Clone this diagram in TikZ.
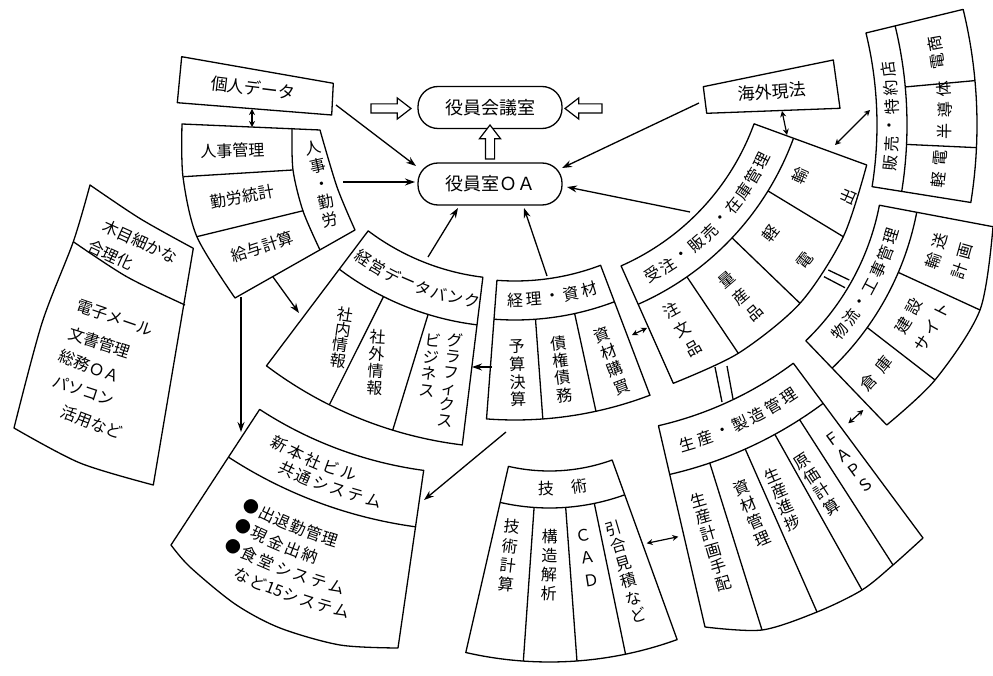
\documentclass[tikz,border=0pt]{standalone}
\usepackage{fontspec}
\setmainfont{Noto Sans CJK JP}
\usetikzlibrary{arrows.meta,shapes.arrows}
\tikzset{
  blk/.style={line width=1.3pt, line join=round},
  lbl/.style={inner sep=0pt, font=\fontsize{16}{18}\selectfont},
  vcol/.style={inner sep=0pt, align=center, font=\fontsize{16}{#1}\selectfont},
  bul/.style={inner sep=0pt, font=\fontsize{16}{18}\selectfont},
  arr/.style={line width=1.3pt, -{Stealth[length=10pt,width=7pt]}},
  darr/.style={line width=1.2pt, {Stealth[length=6pt,width=6pt]}-{Stealth[length=6pt,width=6pt]}},
  hollow/.style={single arrow, draw, line width=1.2pt, fill=white, inner xsep=0pt, inner ysep=4pt,
    minimum height=#1, minimum width=20pt, single arrow head extend=6pt, single arrow tip angle=75},
  oval/.style={draw, line width=1.3pt, rounded corners=20pt, minimum width=144pt, minimum height=42pt,
    inner sep=0pt, font=\fontsize{18}{20}\selectfont},
}
\newcommand\fanoutline[4]{\draw[blk] plot[domain=#1:#2,samples=50,variable=\t] (\t:#3) -- plot[domain=#2:#1,samples=50,variable=\t] (\t:#4) -- cycle;}
\newcommand\fanarc[3]{\draw[blk] plot[domain=#1:#2,samples=50,variable=\t] (\t:#3);}
\newcommand\fanrad[3]{\draw[blk] (#1:#2) -- (#1:#3);}
\newcommand\arcchars[6][lbl]{\foreach \ch [count=\i from 0] in {#6} {\pgfmathsetmacro\myang{#4+\i*(#5)}\node[#1, rotate=90-\myang] (#2\i) at (\myang:#3) {\ch};}}
\begin{document}
\begin{tikzpicture}[x=1pt,y=-1pt]
\useasboundingbox (0,0) rectangle (993,676);
\fill[white] (0,0) rectangle (993,676);

% ---------- top boxes ----------
\draw[blk] (181.7,56.7) -- (333.3,83.3) -- (331.7,115) -- (177.3,102.7) -- cycle;
\node[lbl, font=\fontsize{17}{18}\selectfont, rotate=-7] (kojin) at (253,88) {個人データ};
\draw[blk] (703.3,86.7) -- (833.3,60) -- (840,108.3) -- (706.7,113.3) -- cycle;
\node[lbl, font=\fontsize{17}{18}\selectfont, rotate=4] (kaigai) at (771.7,91.7) {海外現法};

\node[oval] (kaigi) at (490,107.5) {役員会議室};
\node[oval] (oa) at (490,184) {役員室ＯＡ};

\node[hollow=40pt] (h1) at (388,108.5) {};
\node[hollow=37pt, rotate=180] (h2) at (586.5,108.5) {};
\node[hollow=34pt, rotate=90] (h3) at (490,145) {};

% ---------- 人事 block ----------
\draw[blk] (182,124) -- (320,130) -- plot[smooth] coordinates {(320,130) (337,187) (355,230)} -- (235,298)
  -- plot[smooth] coordinates {(235,298) (197,237) (183,177) (182,124)} -- cycle;
\draw[blk] plot[smooth] coordinates {(292,128) (293,170) (303,211) (320,250)};
\draw[blk] (183.3,176.7) -- (292.7,170);
\draw[blk] (196.7,236.7) -- (303.3,210.7);
\node[lbl, rotate=2] (jk) at (232.3,150.7) {人事管理};
\node[lbl, rotate=10] (rt) at (242.3,196.7) {勤労統計};
\node[lbl, rotate=18] (kk) at (262.3,246.7) {給与計算};
\node[vcol=18.4, rotate=13] (jr) at (321.7,184.2) {人\\事\\・\\勤\\労};

% ---------- 木目細かな block ----------
\draw[blk] plot[smooth] coordinates {(90,185) (140.4,218.8) (193.3,248.3)} -- (153.3,485)
  -- plot[smooth] coordinates {(153.3,485) (80,463) (14,428)}
  -- plot[smooth] coordinates {(14,428) (42,323) (73.3,241.7) (90,185)} -- cycle;
\draw[blk] plot[smooth] coordinates {(73.3,241.7) (126.7,276.7) (185,305)};
\node[lbl, rotate=-24.4] (km1) at (140,241.7) {木目細かな};
\node[lbl, rotate=-25] (km2) at (110.8,255) {合理化};
\node[lbl, rotate=-19] (km3) at (115,318) {電子メール};
\node[lbl, rotate=-18] (km4) at (99.5,342.5) {文書管理};
\node[lbl, rotate=-21] (km5) at (90,366.5) {総務ＯＡ};
\node[lbl, rotate=-18] (km6) at (83.5,390.5) {パソコン};
\node[lbl, rotate=-21] (km7) at (91.5,422.5) {活用など};

% ---------- 経営データバンク ----------
\begin{scope}[shift={(512,40)}]
\fanoutline{97}{127}{239}{408}
\fanarc{97}{127}{287}
\fanrad{107}{287}{408}
\fanrad{116.6}{287}{408}
\arcchars{kh}{264}{124.3}{-3.65}{経,営,デ,ー,タ,バ,ン,ク}
\end{scope}
\node[vcol=15.4, rotate=-8.5] (kd1) at (341.7,337.5) {社\\内\\情\\報};
\node[vcol=17.2, rotate=-3.7] (kd2) at (376.7,362.5) {社\\外\\情\\報};
\node[vcol=16.1, rotate=-7] (kd3) at (450,380) {グ\\ラ\\フ\\ィ\\ク\\ス};
\node[vcol=16.8, rotate=-7] (kd4) at (430,365) {ビ\\ジ\\ネ\\ス};

% ---------- 経理・資材 ----------
\begin{scope}[shift={(515,40)}]
\fanoutline{69.2}{94.3}{241}{380}
\fanarc{69.2}{94.3}{280}
\fanrad{85.8}{280}{380}
\fanrad{77.7}{280}{380}
\arcchars{kr}{260}{90}{-4.15}{経,理,・,資,材}
\end{scope}
\node[vcol=17.8, rotate=1.7] (kr1) at (517.5,373.3) {予\\算\\決\\算};
\node[vcol=17.4, rotate=7.4] (kr2) at (561.7,369.2) {債\\権\\債\\務};
\node[vcol=18.5, rotate=21] (kr3) at (611.7,360.8) {資\\材\\購\\買};

% ---------- 受注・販売・在庫管理 ----------
\coordinate (jo1) at (866.7,165);
\coordinate (jo2) at (843.3,236.7);
\coordinate (jo3) at (800,303.3);
\coordinate (jo4) at (738.3,353.3);
\coordinate (jo5) at (673.3,383.3);
\begin{scope}[shift={(521,39)}]
\draw[blk] plot[domain=20:66.2,samples=50,variable=\t] (\t:248) -- (jo5)
  -- plot[smooth] coordinates {(jo5) (jo4) (jo3) (jo2) (jo1)} -- cycle;
\fanarc{20}{66.2}{290}
\draw[blk] (31.6:290) -- (jo2);
\draw[blk] (43.3:290) -- (jo3);
\draw[blk] (55.1:290) -- (jo4);
\arcchars{jh}{270}{60.8}{-3.78}{受,注,・,販,売,・,在,庫,管,理}
\end{scope}
\node[vcol=51.7, rotate=66] (j1) at (824.2,185.8) {輸\\出};
\node[vcol=44, rotate=52.4] (j2) at (787.5,246.7) {軽\\電};
\node[vcol=21.8, rotate=40.4] (j3) at (740.8,296.7) {量\\産\\品};
\node[vcol=22, rotate=29.3] (j4) at (682.5,329.2) {注\\文\\品};

% ---------- 販売・特約店 ----------
\begin{scope}[shift={(487,125)}]
\fanoutline{-13.65}{9.1}{390}{490}
\fanarc{-13.65}{9.1}{420}
\fanrad{-5.2}{420}{490}
\fanrad{2.65}{420}{490}
\arcchars{hb}{405}{5.4}{-2.66}{販,売,・,特,約,店}
\arcchars{hc}{455}{-8.0}{-2.3}{電,商}
\arcchars{hd}{458}{0.77}{-2.63}{半,導,体}
\arcchars{he}{455}{6.9}{-2.7}{軽,電}
\end{scope}

% ---------- 物流・工事管理 ----------
\coordinate (bo1) at (993,226.7);
\coordinate (bo2) at (980,310);
\coordinate (bo3) at (935,380);
\coordinate (bo4) at (886.7,425);
\begin{scope}[shift={(629,157)}]
\draw[blk] plot[domain=10.9:46.1,samples=50,variable=\t] (\t:255) -- (bo4)
  -- plot[smooth] coordinates {(bo4) (bo3) (bo2) (bo1)} -- cycle;
\fanarc{10.9}{46.1}{293}
\draw[blk] (23.2:293) -- (bo2);
\draw[blk] (35.6:293) -- (bo3);
\arcchars{bh}{274}{39.6}{-3.8}{物,流,・,工,事,管,理}
\arcchars{ba}{322}{18.8}{-3.6}{輸,送}
\arcchars{bb}{349}{19.0}{-3.4}{計,画}
\arcchars{bc}{322}{31.5}{-3.8}{建,設}
\arcchars{bd}{348}{32.4}{-3.1}{サ,イ,ト}
\arcchars{be}{329}{43.2}{-4.1}{倉,庫}
\end{scope}

% ---------- 技術 ----------
\begin{scope}[shift={(549.5,287)}]
\fanoutline{70.1}{102.9}{184}{375}
\fanarc{70.1}{102.9}{221}
\fanrad{94}{221}{375}
\fanrad{85.8}{221}{375}
\fanrad{78.3}{221}{375}
\arcchars{gh}{202}{91}{-9.6}{技,術}
\end{scope}
\node[vcol=19.5, rotate=-6.5] (g1) at (509.2,555.8) {技\\術\\計\\算};
\node[vcol=18.9, rotate=-1] (g2) at (549.2,565) {構\\造\\解\\析};
\node[vcol=22.9, rotate=9] (g3) at (587.5,557.5) {Ｃ\\Ａ\\Ｄ};
\node[vcol=18.2, rotate=16.5] (g4) at (625.8,571.7) {引\\合\\見\\積\\な\\ど};

% ---------- 生産・製造管理 ----------
\coordinate (so1) at (923,538);
\coordinate (so2) at (893,565);
\coordinate (so3) at (862,590);
\coordinate (so4) at (817,612);
\coordinate (so5) at (762,630);
\coordinate (so6) at (705,627);
\begin{scope}[shift={(577,73)}]
\draw[blk] plot[domain=77:53.3,samples=50,variable=\t] (\t:362) -- (so1)
  -- plot[smooth] coordinates {(so1) (so2) (so3) (so4) (so5) (so6)} -- cycle;
\fanarc{53.3}{77}{412}
\draw[blk] (71.2:412) -- (so5);
\draw[blk] (65.9:412) -- (so4);
\draw[blk] (61.3:412) -- (so3);
\draw[blk] (57.3:412) -- (so2);
\arcchars{sh}{387}{73.4}{-2.78}{生,産,・,製,造,管,理}
\end{scope}
\node[vcol=17.4, rotate=16.3] (s1) at (710.8,541.7) {生\\産\\計\\画\\手\\配};
\node[vcol=18.4, rotate=23] (s2) at (751.7,513.3) {資\\材\\管\\理};
\node[vcol=17.2, rotate=23] (s3) at (782.5,499.2) {生\\産\\進\\捗};
\node[vcol=18.3, rotate=33] (s4) at (817.5,484.2) {原\\価\\計\\算};
\node[vcol=19, rotate=36] (s5) at (849.2,462.5) {Ｆ\\Ａ\\Ｐ\\Ｓ};

% ---------- 新本社ビル共通システム ----------
\coordinate (nb1) at (398,648);
\coordinate (nb2) at (340,645);
\coordinate (nb3) at (280,628);
\coordinate (nb4) at (235,604);
\coordinate (nb5) at (190,567);
\coordinate (nb6) at (171,545);
\begin{scope}[shift={(477,76)}]
\draw[blk] plot[domain=123.1:97.7,samples=50,variable=\t] (\t:398) -- (nb1)
  -- plot[smooth] coordinates {(nb1) (nb2) (nb3) (nb4) (nb5) (nb6)} -- cycle;
\fanarc{97.7}{123.1}{455}
\arcchars{na}{418}{118.2}{-2.575}{新,本,社,ビ,ル}
\arcchars{nc}{437}{115.8}{-2.42}{共,通,シ,ス,テ,ム}
\arcchars[bul]{ma}{486}{117.6}{-2.0}{●,出,退,勤,管,理}
\arcchars[bul]{mb}{508}{117.4}{-2.05}{●,現,金,出,納}
\arcchars[bul]{mc}{530}{117.4}{-2.0}{●,食,堂,シ,ス,テ,ム}
\arcchars[bul]{md}{552}{115.2}{-1.83}{な,ど,15,シ,ス,テ,ム}
\end{scope}

% ---------- arrows ----------
\coordinate (a1s) at (336,105);   \coordinate (a1e) at (416,166);
\coordinate (a2s) at (343,182);   \coordinate (a2e) at (415,182);
\coordinate (a3s) at (699,103);   \coordinate (a3e) at (562,168);
\coordinate (a4s) at (690,212);   \coordinate (a4e) at (567,187);
\coordinate (a5s) at (428,257);   \coordinate (a5e) at (458,208);
\coordinate (a6s) at (547,276);   \coordinate (a6e) at (524,208);
\coordinate (a7s) at (273,277);   \coordinate (a7e) at (299,313);
\coordinate (a8s) at (241,297);   \coordinate (a8e) at (241,432);
\coordinate (a9s) at (506,432);   \coordinate (a9e) at (424,500);
\coordinate (a10s) at (492,367);  \coordinate (a10e) at (472,367);
\foreach \k in {1,...,10} {\draw[arr] (a\k s) -- (a\k e);}

\coordinate (d1s) at (252,109);   \coordinate (d1e) at (252,127);
\coordinate (d2s) at (782,111);   \coordinate (d2e) at (787,135);
\coordinate (d3s) at (835,145);   \coordinate (d3e) at (870,110);
\coordinate (d4s) at (632,335);   \coordinate (d4e) at (647,328);
\coordinate (d5s) at (646.7,543.3); \coordinate (d5e) at (678.3,536.7);
\coordinate (d6s) at (848.3,423.3); \coordinate (d6e) at (863.3,410);
\foreach \k in {1,...,6} {\draw[darr] (d\k s) -- (d\k e);}

% pipes
\coordinate (p1a) at (828.3,270); \coordinate (p1b) at (849.3,280);
\coordinate (p2a) at (824,276.7); \coordinate (p2b) at (845,287.7);
\coordinate (p3a) at (715,367);   \coordinate (p3b) at (722,402);
\coordinate (p4a) at (727,366);   \coordinate (p4b) at (733,399);
\draw[blk] (p1a) -- (p1b);
\draw[blk] (p2a) -- (p2b);
\draw[blk] (p3a) -- (p3b);
\draw[blk] (p4a) -- (p4b);
\end{tikzpicture}
\end{document}
